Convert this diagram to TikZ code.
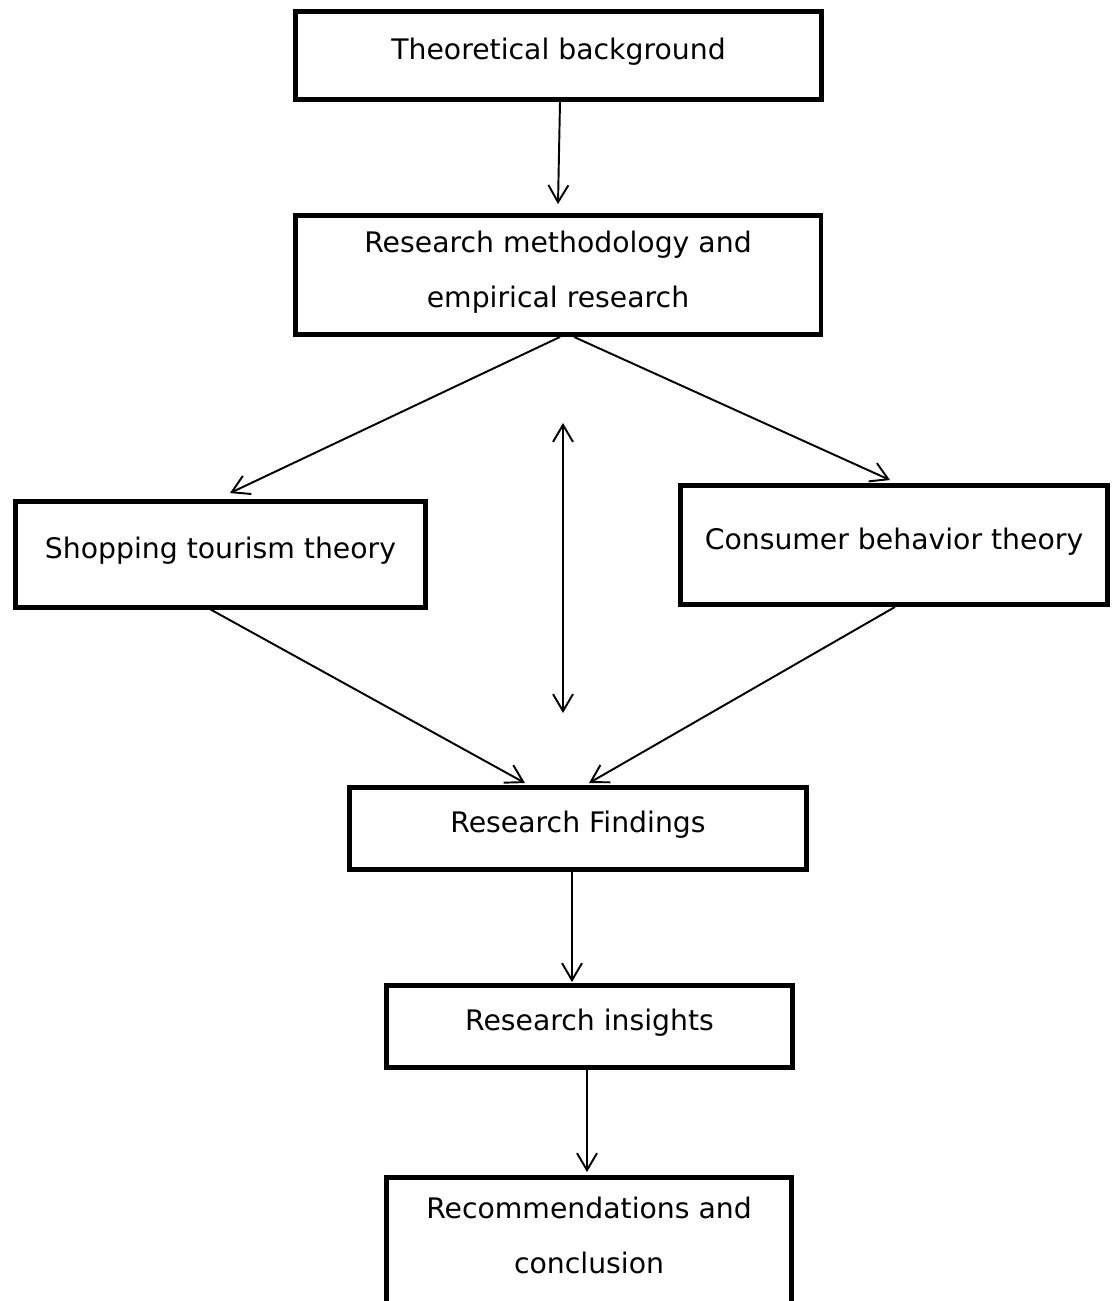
\documentclass[tikz,border=0pt]{standalone}
\usepackage{fontspec}
\setmainfont{DejaVu Sans}
\usetikzlibrary{arrows.meta,calc}

\begin{document}
\begin{tikzpicture}[x=0.02cm,y=-0.02cm,
    box/.style={draw,line width=2.8pt,inner sep=0pt,align=center,
      text height=11.8pt,text depth=7pt,
      font=\fontsize{16.1pt}{31.3pt}\selectfont},
    twoline/.style={box,text height=43.6pt},
    flow/.style={line width=1.1pt,-{Straight Barb[length=3.4mm,width=4mm]}},
    twoway/.style={line width=1.1pt,{Straight Barb[length=3.4mm,width=4mm]}-{Straight Barb[length=3.4mm,width=4mm]}}]
  \useasboundingbox (0,0) rectangle (1112,1301);

  \node[box,minimum width=10.54cm,minimum height=1.76cm] (theory) at (558.5,55.5) {Theoretical background};
  \node[twoline,minimum width=10.52cm,minimum height=2.38cm] (method) at (558,275) {Research methodology and\\empirical research};
  \node[box,minimum width=8.2cm,minimum height=2.12cm] (shop) at (220.5,554.5) {Shopping tourism theory};
  \node[box,minimum width=8.54cm,minimum height=2.38cm] (consumer) at (894,545) {Consumer behavior theory};
  \node[box,minimum width=9.14cm,minimum height=1.64cm] (findings) at (578,828.5) {Research Findings};
  \node[box,minimum width=8.12cm,minimum height=1.64cm] (insights) at (589.5,1026.5) {Research insights};
  \node[twoline,minimum width=8.1cm,minimum height=2.54cm] (recom) at (589,1241) {Recommendations and\\conclusion};

  \coordinate (up) at (563,423);
  \coordinate (down) at (563,713);

  \draw[flow] ($(theory.south)+(1.5,0)$) -- ($(method.north)+(0,-9)$);
  \draw[flow] ($(method.south)+(2,0)$) -- ($(shop.north)+(9.5,-6)$);
  \draw[flow] ($(method.south)+(16,0)$) -- ($(consumer.north)+(-4,-3)$);
  \draw[twoway] (up) -- (down);
  \draw[flow] ($(shop.south)+(-14.5,-3)$) -- ($(findings.north)+(-53,-2)$);
  \draw[flow] ($(consumer.south)+(1,0)$) -- ($(findings.north)+(11,-2)$);
  \draw[flow] ($(findings.south)+(-6,0)$) -- ($(insights.north)+(-17.5,-1)$);
  \draw[flow] ($(insights.south)+(-2.5,0)$) -- ($(recom.north)+(-2,-3)$);
\end{tikzpicture}
\end{document}
